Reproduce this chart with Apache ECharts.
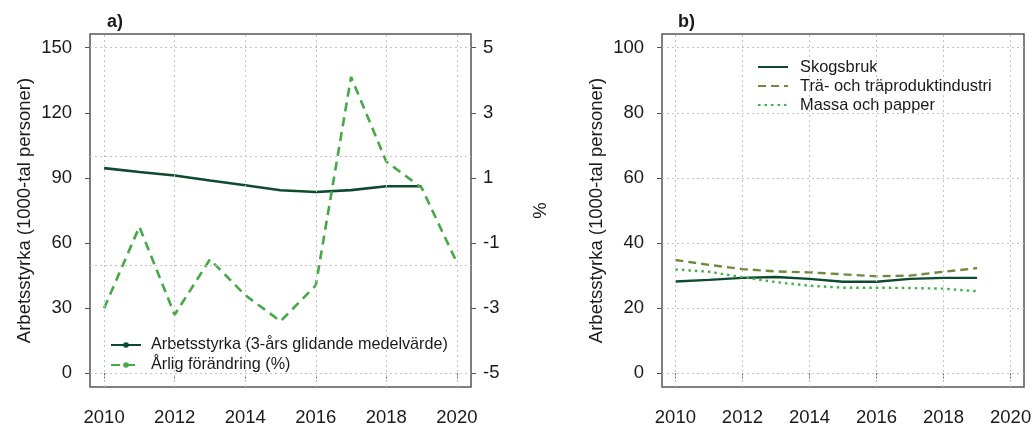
<!DOCTYPE html>
<html>
<head>
<meta charset="utf-8">
<script src="https://cdn.jsdelivr.net/npm/echarts@6/dist/echarts.min.js"></script>
<style>
html,body{margin:0;padding:0;background:#fff;}
#chart{width:1036px;height:428px;}
</style>
</head>
<body>
<div id="chart"></div>
<script>
// ---- data ----
const yearsA = [2010, 2011, 2012, 2013, 2014, 2015, 2016, 2017, 2018, 2019];
const yearsPct = [2010, 2011, 2012, 2013, 2014, 2015, 2016, 2017, 2018, 2019, 2020];
const arbetsstyrka = [94.5, 92.7, 91.1, 88.8, 86.6, 84.3, 83.5, 84.4, 86.2, 86.2];
const arligForandring = [-3.0, -0.5, -3.2, -1.5, -2.6, -3.4, -2.3, 4.1, 1.5, 0.7, -1.6];
const yearsB = [2010, 2011, 2012, 2013, 2014, 2015, 2016, 2017, 2018, 2019];
const skogsbruk = [28.2, 28.7, 29.3, 29.6, 29.0, 28.1, 28.1, 29.0, 29.3, 29.3];
const traprodukt = [34.8, 33.3, 32.0, 31.3, 31.0, 30.4, 29.8, 30.0, 31.2, 32.3];
const massaPapper = [31.9, 31.2, 29.5, 28.0, 26.9, 26.3, 26.3, 26.2, 26.0, 25.2];

const xTicks = [2010, 2012, 2014, 2016, 2018, 2020];
const xGrid = [2010, 2012, 2014, 2016, 2018, 2020];
const yTicksA = [0, 30, 60, 90, 120, 150];
const yGridA = [0, 50, 100, 150];
const pctTicks = [-5, -3, -1, 1, 3, 5];
const yTicksB = [0, 20, 40, 60, 80, 100];
const yGridB = [0, 20, 40, 60, 80, 100];

const FONT = "'Liberation Sans', Arial, sans-serif";
const TXT = '#1a1a1a';
const FRAME = '#555555';
const GRIDC = '#c4c4c4';

const zip = (xs, ys) => xs.map((x, i) => [x, ys[i]]);

function gridMark(xs, ys) {
  return {
    silent: true,
    symbol: ['none', 'none'],
    label: {show: false},
    animation: false,
    lineStyle: {color: GRIDC, type: [2, 3], width: 1},
    data: xs.map(v => ({xAxis: v})).concat(ys.map(v => ({yAxis: v})))
  };
}

function xAxisDef(gridIndex) {
  return {
    type: 'value', gridIndex: gridIndex, min: 2009.6, max: 2020.4,
    axisLine: {show: false},
    axisTick: {show: true, length: 5, customValues: xTicks, lineStyle: {color: FRAME, width: 1}},
    axisLabel: {customValues: xTicks, fontSize: 18.5, color: TXT, fontFamily: FONT, margin: 21,
      formatter: v => String(Math.round(v))},
    splitLine: {show: false}
  };
}

const chart = echarts.init(document.getElementById('chart'), null, {renderer: 'canvas'});
chart.setOption({
  animation: false,
  backgroundColor: '#ffffff',
  textStyle: {fontFamily: FONT},
  title: [
    {text: 'a)', left: 107, top: 13, padding: 0, textStyle: {fontSize: 18, fontWeight: 'bold', color: TXT, fontFamily: FONT}},
    {text: 'b)', left: 678, top: 13, padding: 0, textStyle: {fontSize: 18, fontWeight: 'bold', color: TXT, fontFamily: FONT}}
  ],
  grid: [
    {left: 90, top: 34, width: 381, height: 353, show: true, borderColor: FRAME, borderWidth: 1.5, backgroundColor: 'transparent'},
    {left: 662, top: 34, width: 362, height: 353, show: true, borderColor: FRAME, borderWidth: 1.5, backgroundColor: 'transparent'}
  ],
  xAxis: [xAxisDef(0), xAxisDef(1)],
  yAxis: [
    {
      type: 'value', gridIndex: 0, min: -6.3, max: 156.3, position: 'left',
      name: 'Arbetsstyrka (1000-tal personer)', nameLocation: 'middle', nameGap: 56, nameRotate: 90,
      nameTextStyle: {fontSize: 18.5, color: TXT, fontFamily: FONT},
      axisLine: {show: false},
      axisTick: {show: true, length: 5, customValues: yTicksA, lineStyle: {color: FRAME}},
      axisLabel: {customValues: yTicksA, fontSize: 18.5, color: TXT, fontFamily: FONT, margin: 18},
      splitLine: {show: false}
    },
    {
      type: 'value', gridIndex: 0, min: -5.42, max: 5.42, position: 'right',
      name: '%', nameLocation: 'middle', nameGap: 60, nameRotate: 90,
      nameTextStyle: {fontSize: 18.5, color: TXT, fontFamily: FONT},
      axisLine: {show: false},
      axisTick: {show: true, length: 5, customValues: pctTicks, lineStyle: {color: FRAME}},
      axisLabel: {customValues: pctTicks, fontSize: 18.5, color: TXT, fontFamily: FONT, margin: 12},
      splitLine: {show: false}
    },
    {
      type: 'value', gridIndex: 1, min: -4.2, max: 104.2, position: 'left',
      name: 'Arbetsstyrka (1000-tal personer)', nameLocation: 'middle', nameGap: 56, nameRotate: 90,
      nameTextStyle: {fontSize: 18.5, color: TXT, fontFamily: FONT},
      axisLine: {show: false},
      axisTick: {show: true, length: 5, customValues: yTicksB, lineStyle: {color: FRAME}},
      axisLabel: {customValues: yTicksB, fontSize: 18.5, color: TXT, fontFamily: FONT, margin: 18},
      splitLine: {show: false}
    }
  ],
  legend: [
    {
      orient: 'vertical', left: 106, top: 335, itemWidth: 30, itemHeight: 7, itemGap: 4,
      backgroundColor: '#ffffff', padding: [2, 4, 2, 4],
      textStyle: {fontSize: 16.2, lineHeight: 16, color: TXT, fontFamily: FONT, padding: [0, 0, 0, 5]},
      data: ['Arbetsstyrka (3-års glidande medelvärde)', 'Årlig förändring (%)']
    },
    {
      orient: 'vertical', left: 752, top: 54, itemWidth: 30, itemHeight: 8, itemGap: 3,
      backgroundColor: 'transparent',
      itemStyle: {opacity: 0},
      textStyle: {fontSize: 16.4, lineHeight: 16, color: TXT, fontFamily: FONT, padding: [0, 0, 0, 7]},
      data: ['Skogsbruk', 'Trä- och träproduktindustri', 'Massa och papper']
    }
  ],
  series: [
    {
      name: 'Arbetsstyrka (3-års glidande medelvärde)', type: 'line', xAxisIndex: 0, yAxisIndex: 0,
      data: zip(yearsA, arbetsstyrka), showSymbol: false, symbol: 'circle', symbolSize: 6,
      itemStyle: {color: '#0d4a2e'}, lineStyle: {color: '#0d4a2e', width: 2.6},
      markLine: gridMark(xGrid, yGridA), z: 3
    },
    {
      name: 'Årlig förändring (%)', type: 'line', xAxisIndex: 0, yAxisIndex: 1,
      data: zip(yearsPct, arligForandring), showSymbol: false, symbol: 'circle', symbolSize: 6,
      itemStyle: {color: '#46a847'}, lineStyle: {color: '#46a847', width: 2.6, type: [9, 6]}, z: 3
    },
    {
      name: 'Skogsbruk', type: 'line', xAxisIndex: 1, yAxisIndex: 2,
      data: zip(yearsB, skogsbruk), showSymbol: false, symbol: 'none',
      itemStyle: {color: '#0d4a2e'}, lineStyle: {color: '#0d4a2e', width: 2.4},
      markLine: gridMark(xGrid, yGridB), z: 3
    },
    {
      name: 'Trä- och träproduktindustri', type: 'line', xAxisIndex: 1, yAxisIndex: 2,
      data: zip(yearsB, traprodukt), showSymbol: false, symbol: 'none',
      itemStyle: {color: '#6f8a3c'}, lineStyle: {color: '#6f8a3c', width: 2.4, type: [8, 5]}, z: 3
    },
    {
      name: 'Massa och papper', type: 'line', xAxisIndex: 1, yAxisIndex: 2,
      data: zip(yearsB, massaPapper), showSymbol: false, symbol: 'none',
      itemStyle: {color: '#3fb14a'}, lineStyle: {color: '#3fb14a', width: 2.4, type: [2.5, 4]}, z: 3
    }
  ]
});
</script>
</body>
</html>
